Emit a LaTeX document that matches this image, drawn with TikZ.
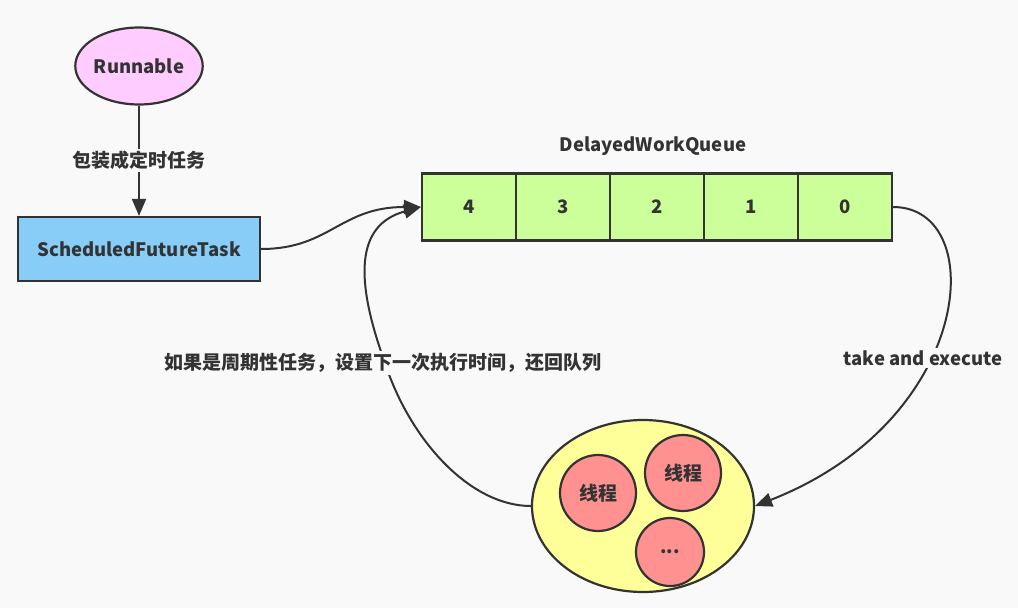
\documentclass[tikz,border=0pt]{standalone}
\usepackage{fontspec}
\setmainfont{Noto Sans CJK SC}
\usetikzlibrary{arrows.meta,shapes.geometric}
\definecolor{bg}{HTML}{F9F9F9}
\definecolor{ink}{HTML}{333333}
\definecolor{pinkfill}{HTML}{FFCCFF}
\definecolor{bluefill}{HTML}{88CDF8}
\definecolor{greenfill}{HTML}{CCFF99}
\definecolor{yellowfill}{HTML}{FFFF99}
\definecolor{redfill}{HTML}{FF9191}
\begin{document}
\begin{tikzpicture}[x=1pt,y=-1pt,
  every node/.style={font=\fontsize{18.5}{22}\selectfont\bfseries, text=ink},
  cjk/.style={font=\fontsize{19}{22}\selectfont\bfseries},
  shapeline/.style={draw=ink, line width=2.2pt},
  conn/.style={draw=ink, line width=2pt, -{Triangle[length=17pt,width=14pt]}},
  cell/.style={shapeline, fill=greenfill, minimum width=94pt, minimum height=67pt, inner sep=0pt},
  lbl/.style={fill=bg, inner sep=2pt}
]
\fill[bg] (0,0) rectangle (1018,608);
\useasboundingbox (0,0) rectangle (1018,608);

\node[shapeline, ellipse, fill=pinkfill, minimum width=124pt, minimum height=77pt, inner sep=0pt] (run) at (139,66) {Runnable};
\node[shapeline, rectangle, fill=bluefill, minimum width=242pt, minimum height=64pt, inner sep=0pt] (sft) at (139,249) {ScheduledFutureTask};

\node[cell] (c4) at (469,207) {4};
\node[cell] (c3) at (563,207) {3};
\node[cell] (c2) at (657,207) {2};
\node[cell] (c1) at (751,207) {1};
\node[cell] (c0) at (845,207) {0};
\node (qlabel) at (653,146) {DelayedWorkQueue};

\node[shapeline, ellipse, fill=yellowfill, minimum width=222pt, minimum height=172pt, inner sep=0pt] (pool) at (643,506) {};
\node[shapeline, circle, fill=redfill, minimum size=76pt, inner sep=0pt, cjk] (t1) at (598,493) {线程};
\node[shapeline, circle, fill=redfill, minimum size=76pt, inner sep=0pt, cjk] (t2) at (683,473) {线程};
\node[shapeline, circle, fill=redfill, minimum size=68pt, inner sep=0pt] (t3) at (670,552) {...};

\draw[conn] (run) -- node[lbl, cjk] {包装成定时任务} (sft);
\draw[conn] (sft.east) .. controls (330,249) and (340,207) .. (c4.west);
\draw[conn] (pool.west) .. controls (470,506) and (410,440) .. (385,363)
  .. controls (355,280) and (355,225) .. (c4.west);
\draw[conn] (c0.east) .. controls (990,207) and (975,420) .. (pool.east);

\node[lbl, cjk] (backlabel) at (383,363) {如果是周期性任务，设置下一次执行时间，还回队列};
\node[lbl] (takelabel) at (923,358) {take and execute};
\end{tikzpicture}
\end{document}
